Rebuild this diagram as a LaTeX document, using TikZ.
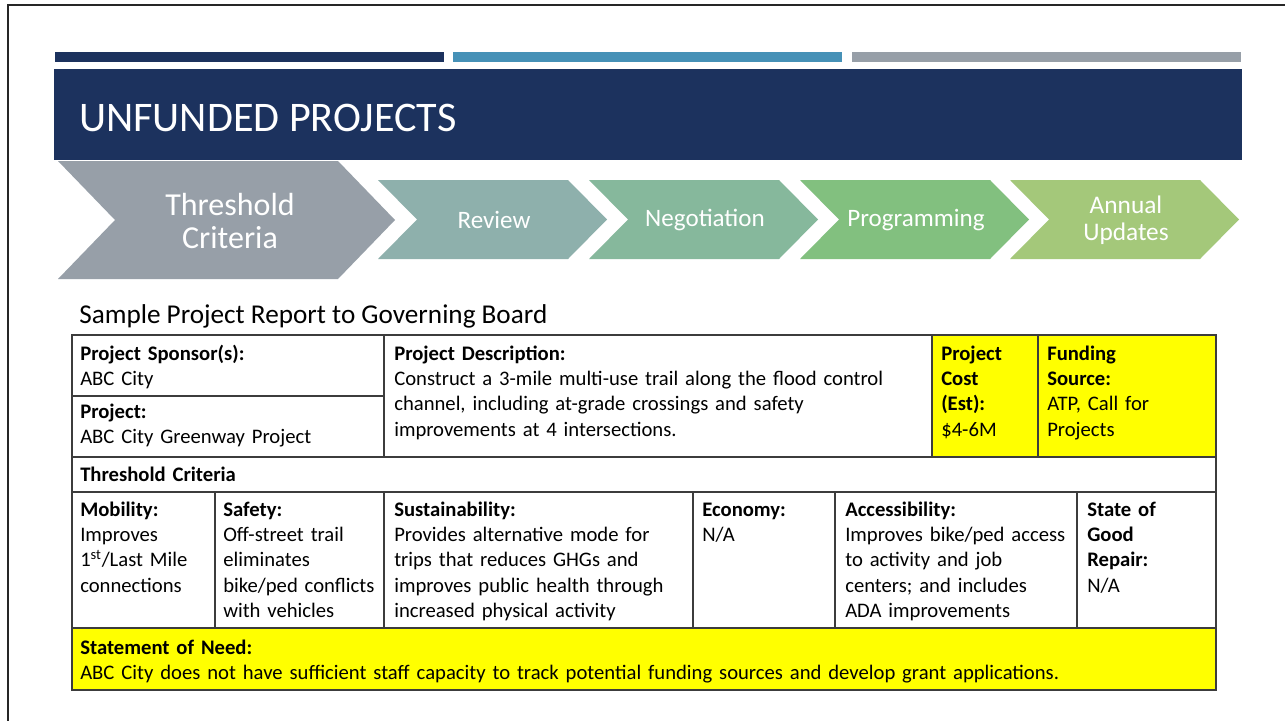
\documentclass[tikz,border=0pt]{standalone}
\usepackage{fontspec}
\setmainfont{Carlito}
\usetikzlibrary{positioning}
\definecolor{TitleNavy}{RGB}{28,50,94}
\definecolor{BarBlue}{RGB}{70,145,183}
\definecolor{BarGrey}{RGB}{151,159,168}
\definecolor{RevTeal}{RGB}{142,176,172}
\definecolor{NegGreen}{RGB}{134,184,156}
\definecolor{ProgGreen}{RGB}{130,192,127}
\definecolor{AnnGreen}{RGB}{164,200,122}
\definecolor{HiYellow}{RGB}{255,255,0}
\definecolor{RuleGrey}{RGB}{60,60,60}

\begin{document}
\begin{tikzpicture}[x=0.75pt,y=-0.75pt,
  steplabel/.style={text=white, align=center, inner sep=0pt, font=\fontsize{18.8}{20}\selectfont},
  cell/.style={anchor=base west, align=left, inner sep=0pt, text width=#1, font=\fontsize{15.5}{19.1}\selectfont},
  tabline/.style={draw=RuleGrey, line width=1pt}]
\useasboundingbox (0,0) rectangle (1285,721);
\fill[white] (0,0) rectangle (1285,721);
% slide frame
\draw[black!85, line width=2pt] (8,721) -- (8,5) -- (1285,5);
% top bars and title band
\fill[TitleNavy] (55,52) rectangle (444,62);
\fill[BarBlue] (453,52) rectangle (842,62);
\fill[BarGrey] (852,52) rectangle (1241,62);
\fill[TitleNavy] (54,69) rectangle (1242,160);
\node[anchor=base west, text=white, inner sep=0pt, font=\fontsize{31.6}{34}\selectfont] (title) at (79,131) {UNFUNDED PROJECTS};
% process chevrons
\fill[BarGrey] (58,161) -- (338,161) -- (395,220) -- (338,279) -- (58,279) -- (115,220) -- cycle;
\fill[RevTeal] (378,180) -- (568,180) -- (607,219.5) -- (568,259) -- (378,259) -- (417,219.5) -- cycle;
\fill[NegGreen] (589,180) -- (779,180) -- (818,219.5) -- (779,259) -- (589,259) -- (628,219.5) -- cycle;
\fill[ProgGreen] (800,180) -- (990,180) -- (1029,219.5) -- (990,259) -- (800,259) -- (839,219.5) -- cycle;
\fill[AnnGreen] (1010,180) -- (1200,180) -- (1239,219.5) -- (1200,259) -- (1010,259) -- (1049,219.5) -- cycle;
\node[steplabel, font=\fontsize{24}{25}\selectfont] (thresh) at (230,221) {Threshold\\Criteria};
\node[steplabel] (review) at (494,220) {Review};
\node[steplabel] (negot) at (705,220) {Negotiation};
\node[steplabel] (progr) at (916,220) {Programming};
\node[steplabel, font=\fontsize{19}{20.5}\selectfont] (annual) at (1126,220) {Annual\\Updates};
% report table
\node[anchor=base west, inner sep=0pt, font=\fontsize{20.4}{24}\selectfont] (report) at (79,323) {Sample Project Report to Governing Board};
\fill[HiYellow] (932,335) rectangle (1216,457);
\fill[HiYellow] (72,628) rectangle (1216,690);
\draw[tabline] (72,335) rectangle (1216,690);
\draw[tabline] (72,396) -- (384,396);
\draw[tabline] (72,457) -- (1216,457);
\draw[tabline] (72,492) -- (1216,492);
\draw[tabline] (72,628) -- (1216,628);
\draw[tabline] (384,335) -- (384,457);
\draw[tabline] (932,335) -- (932,457);
\draw[tabline] (1038,335) -- (1038,457);
\draw[tabline] (215,492) -- (215,628);
\draw[tabline] (384,492) -- (384,628);
\draw[tabline] (693,492) -- (693,628);
\draw[tabline] (835,492) -- (835,628);
\draw[tabline] (1077,492) -- (1077,628);
\node[cell=220pt] (spons) at (80,360) {\textbf{Project Sponsor(s):}\\ABC City};
\node[cell=220pt] (proj) at (80,418) {\textbf{Project:}\\ABC City Greenway Project};
\node[cell=400pt] (desc) at (394,360) {\textbf{Project Description:}\\Construct a 3-mile multi-use trail along the flood control\\channel, including at-grade crossings and safety\\improvements at 4 intersections.};
\node[cell=70pt] (cost) at (941,360) {\textbf{Project}\\\textbf{Cost}\\\textbf{(Est):}\\\$4-6M};
\node[cell=125pt] (fund) at (1047,360) {\textbf{Funding}\\\textbf{Source:}\\ATP, Call for\\Projects};
\node[cell=300pt] (thr) at (80,481) {\textbf{Threshold Criteria}};
\node[cell=100pt] (mob) at (80,516) {\textbf{Mobility:}\\Improves\\1\textsuperscript{st}/Last Mile\\connections};
\node[cell=120pt] (saf) at (223,516) {\textbf{Safety:}\\Off-street trail\\eliminates\\bike/ped conflicts\\with vehicles};
\node[cell=220pt] (sus) at (394,516) {\textbf{Sustainability:}\\Provides alternative mode for\\trips that reduces GHGs and\\improves public health through\\increased physical activity};
\node[cell=100pt] (eco) at (702,516) {\textbf{Economy:}\\N/A};
\node[cell=175pt] (acc) at (845,516) {\textbf{Accessibility:}\\Improves bike/ped access\\to activity and job\\centers; and includes\\ADA improvements};
\node[cell=95pt] (sgr) at (1087,516) {\textbf{State of}\\\textbf{Good}\\\textbf{Repair:}\\N/A};
\node[cell=850pt] (need) at (80,654) {\textbf{Statement of Need:}\\ABC City does not have sufficient staff capacity to track potential funding sources and develop grant applications.};
\end{tikzpicture}
\end{document}
